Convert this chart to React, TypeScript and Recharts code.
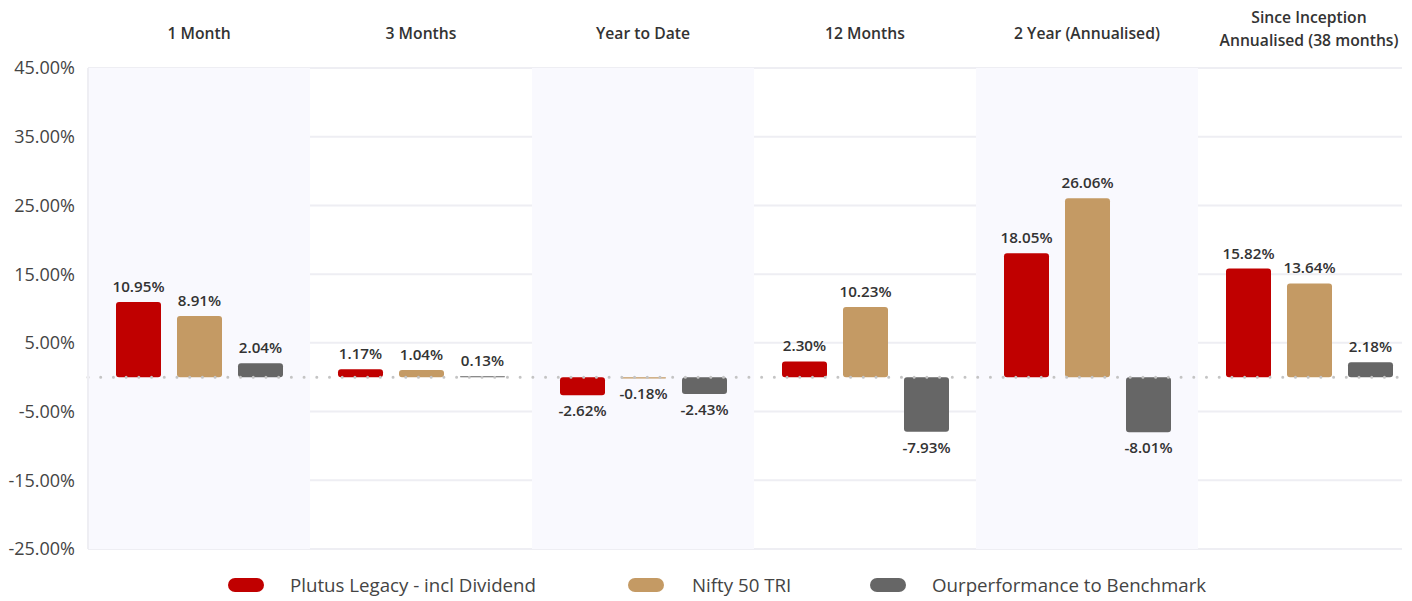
import React from 'react';
import {
  BarChart,
  Bar,
  XAxis,
  YAxis,
  CartesianGrid,
  ReferenceArea,
  ReferenceLine,
  LabelList,
  Legend,
} from 'recharts';

const categories = [
  '1 Month',
  '3 Months',
  'Year to Date',
  '12 Months',
  '2 Year (Annualised)',
  'Since Inception\nAnnualised (38 months)',
];
const plutusLegacy = [10.95, 1.17, -2.62, 2.3, 18.05, 15.82];
const nifty50Tri = [8.91, 1.04, -0.18, 10.23, 26.06, 13.64];
const outperformance = [2.04, 0.13, -2.43, -7.93, -8.01, 2.18];
const yTicks = [-25, -15, -5, 5, 15, 25, 35, 45];
const seriesNames = ['Plutus Legacy - incl Dividend', 'Nifty 50 TRI', 'Ourperformance to Benchmark'];
const seriesKeys = ['plutus', 'nifty', 'outperf'];
const seriesColors = ['#C00000', '#C49A64', '#666666'];
const shadedCategories = [categories[0], categories[2], categories[4]];

const data = categories.map((c, i) => ({
  category: c,
  plutus: plutusLegacy[i],
  nifty: nifty50Tri[i],
  outperf: outperformance[i],
}));

const FONT = '"Open Sans", sans-serif';

const CategoryTick = (props: any) => {
  const { x, payload } = props;
  const lines = String(payload.value).split('\n');
  const ys = lines.length === 1 ? [33] : [17, 40];
  return (
    <g>
      {lines.map((l: string, i: number) => (
        <text
          key={i}
          x={x}
          y={ys[i]}
          textAnchor="middle"
          dominantBaseline="central"
          fontSize={15.7}
          fontWeight={600}
          fill="#333"
          fontFamily={FONT}
        >
          {l}
        </text>
      ))}
    </g>
  );
};

const renderValueLabel = (props: any) => {
  const { x, y, width, height, value } = props;
  const top = Math.min(y, y + height);
  const bottom = Math.max(y, y + height);
  const cx = x + width / 2;
  const neg = Number(value) < 0;
  return (
    <text
      x={cx}
      y={neg ? bottom + 21 : top - 10}
      textAnchor="middle"
      fontSize={15.2}
      fontWeight={600}
      fill="#333"
      fontFamily={FONT}
    >
      {Number(value).toFixed(2) + '%'}
    </text>
  );
};

const legendPositions = [
  { icon: 228, text: 290 },
  { icon: 628, text: 692 },
  { icon: 870, text: 932 },
];

const renderLegend = () => (
  <div style={{ position: 'relative', width: 1412, height: 52, fontFamily: FONT }}>
    {seriesNames.map((n, i) => (
      <React.Fragment key={n}>
        <div
          style={{
            position: 'absolute',
            left: legendPositions[i].icon,
            top: 29,
            width: 36,
            height: 14,
            borderRadius: 7,
            background: seriesColors[i],
          }}
        />
        <div
          style={{
            position: 'absolute',
            left: legendPositions[i].text,
            top: 23,
            height: 26,
            lineHeight: '26px',
            fontSize: 18.7,
            color: '#444',
            whiteSpace: 'nowrap',
          }}
        >
          {n}
        </div>
      </React.Fragment>
    ))}
  </div>
);

export default function App() {
  return (
    <div style={{ marginLeft: -8, marginTop: -8, width: 1412, height: 601, fontFamily: FONT, background: '#fff' }}>
      <BarChart
        width={1412}
        height={601}
        data={data}
        margin={{ top: 0, right: 10, bottom: 0, left: 0 }}
        barSize={45}
        barGap={16}
      >
        {shadedCategories.map((c) => (
          <ReferenceArea key={c} x1={c} x2={c} fill="#F9F9FE" fillOpacity={1} stroke="none" />
        ))}
        <CartesianGrid vertical={false} stroke="#EEEEF3" strokeWidth={2} />
        <XAxis
          dataKey="category"
          orientation="top"
          height={68}
          axisLine={false}
          tickLine={false}
          interval={0}
          tick={<CategoryTick />}
          padding={{ left: 0, right: -18 }}
        />
        <YAxis
          domain={[-25, 45]}
          ticks={yTicks}
          width={88}
          tickLine={false}
          axisLine={{ stroke: '#EEEEF3', strokeWidth: 2 }}
          tickMargin={7}
          tick={{ fontSize: 18, fill: '#444', fontFamily: FONT }}
          tickFormatter={(v: number) => v.toFixed(2) + '%'}
        />
        <ReferenceLine
          y={0}
          stroke="#C4C4C4"
          strokeWidth={3}
          strokeDasharray="0.01 12.7"
          strokeLinecap="round"
        />
        {seriesKeys.map((k, i) => (
          <Bar
            key={k}
            dataKey={k}
            name={seriesNames[i]}
            fill={seriesColors[i]}
            radius={3}
            isAnimationActive={false}
          >
            <LabelList dataKey={k} content={renderValueLabel} />
          </Bar>
        ))}
        <Legend
          verticalAlign="bottom"
          content={renderLegend}
          wrapperStyle={{ left: 0, width: 1412, height: 52, bottom: 0 }}
        />
      </BarChart>
    </div>
  );
}
